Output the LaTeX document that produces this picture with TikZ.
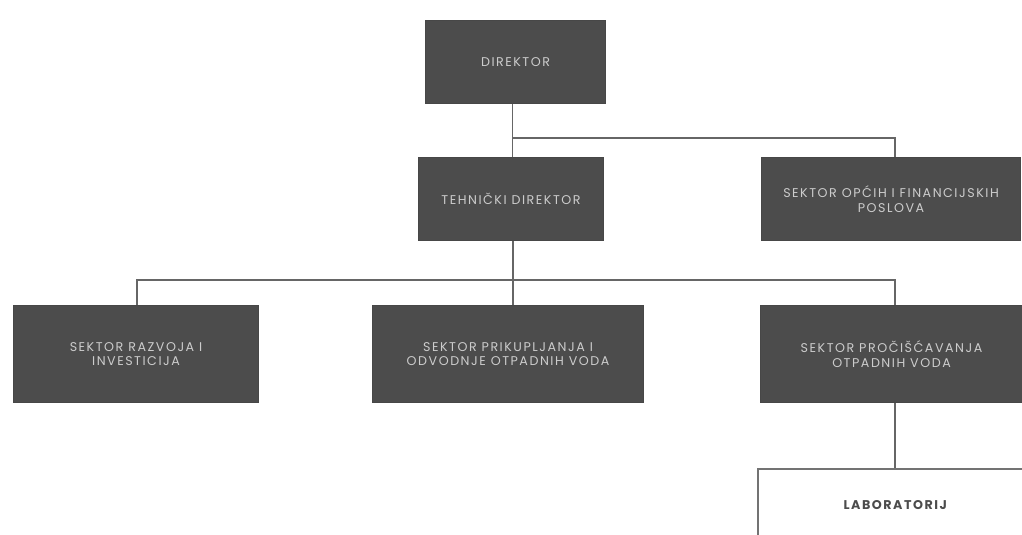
\documentclass[tikz,border=0pt]{standalone}
\usepackage{fontspec}
\setmainfont{Poppins}[LetterSpace=12]
\begin{document}
\begin{tikzpicture}[x=0.75pt,y=-0.75pt,
  darkbox/.style={draw=black!72,line width=0.8pt,fill=black!70,text=black!20,
    font=\fontsize{9.5}{11}\selectfont,align=center,inner sep=0pt,anchor=north west},
  lightbox/.style={draw=black!55,line width=1.2pt,fill=white,text=black!70,
    font=\fontsize{9.5}{11}\selectfont\bfseries,align=center,inner sep=0pt,anchor=north west},
  link/.style={draw=black!60,line width=1pt}]
\path[use as bounding box,fill=white] (0,0) rectangle (1022,535);
\begin{scope}
\clip (0,0) rectangle (1022,535);
\node[darkbox,minimum width=180*0.75pt,minimum height=83*0.75pt] (dir) at (425,20) {DIREKTOR};
\node[darkbox,minimum width=185*0.75pt,minimum height=83*0.75pt] (teh) at (418,157) {TEHNIČKI DIREKTOR};
\node[darkbox,minimum width=259*0.75pt,minimum height=83*0.75pt] (opc) at (761,157) {SEKTOR OPĆIH I FINANCIJSKIH\\POSLOVA};
\node[darkbox,minimum width=245*0.75pt,minimum height=97*0.75pt] (raz) at (13,305) {SEKTOR RAZVOJA I\\INVESTICIJA};
\node[darkbox,minimum width=271*0.75pt,minimum height=97*0.75pt] (pri) at (372,305) {SEKTOR PRIKUPLJANJA I\\ODVODNJE OTPADNIH VODA};
\node[darkbox,minimum width=262*0.75pt,minimum height=97*0.75pt] (pro) at (760,305) {SEKTOR PROČIŠĆAVANJA\\OTPADNIH VODA};
\node[lightbox,minimum width=275*0.75pt,minimum height=72*0.75pt] (lab) at (757,468) {LABORATORIJ};
\end{scope}
\coordinate (j1) at (512,138);
\coordinate (j1r) at (895,138);
\coordinate (j2) at (512,280);
\coordinate (j2l) at (137,280);
\coordinate (j2r) at (895,280);
\draw[link] (dir.south) ++(-3,0) coordinate (d0) -- (d0 |- teh.north);
\draw[link] (j1) -- (j1r) -- (j1r |- opc.north);
\draw[link] (teh.south) ++(2,0) coordinate (t0) -- (t0 |- pri.north);
\draw[link] (j2l |- raz.north) -- (j2l) -- (j2r) -- (j2r |- pro.north);
\draw[link] (pro.south -| j2r) -- (j2r |- lab.north);
\end{tikzpicture}
\end{document}
